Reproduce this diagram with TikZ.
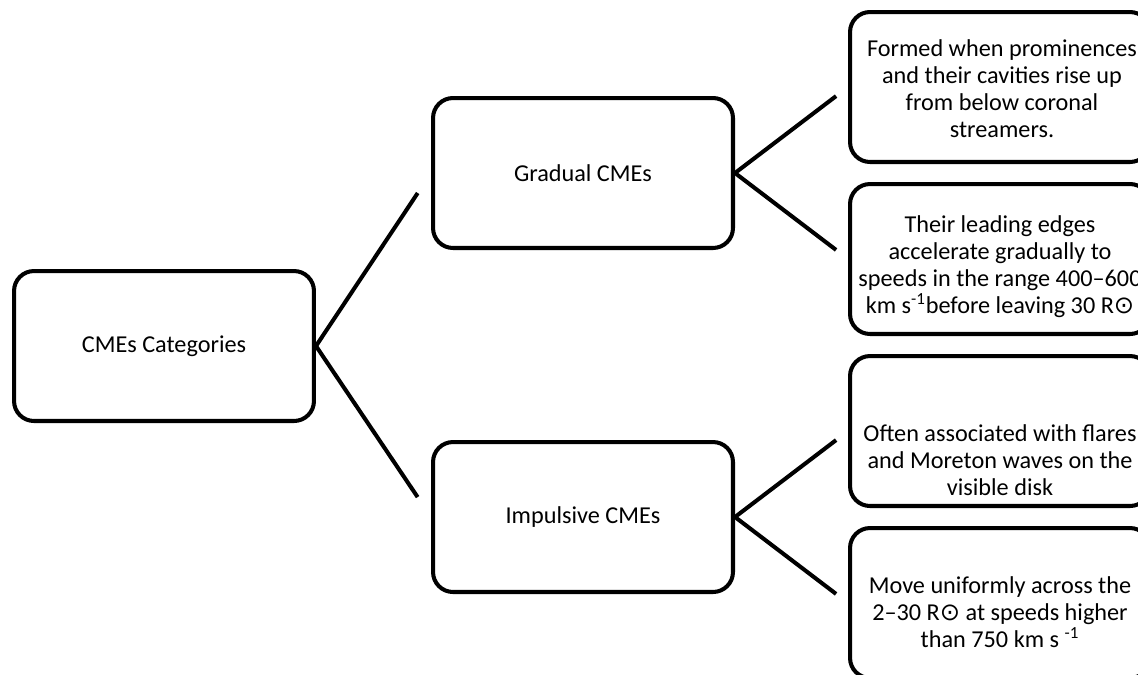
\documentclass[tikz,border=0pt]{standalone}
\usepackage{fontspec}
\setmainfont{Carlito}
\newfontfamily\symfont{DejaVu Sans}
\newcommand{\sunR}{R{\symfont ⊙}}

\begin{document}
\begin{tikzpicture}[x=0.02cm,y=-0.02cm,
  catbox/.style={draw,line width=2.3pt,rounded corners=0.4cm,
    minimum width=6cm,minimum height=3cm,inner sep=0pt,
    font=\fontsize{13.8}{15.4}\selectfont},
  leaftext/.style={align=center,inner sep=0pt,
    font=\fontsize{13.8}{15.4}\selectfont},
  link/.style={line width=2.3pt}]
\useasboundingbox (0,0) rectangle (1138,674);
\clip (0,0) rectangle (1138,674);
% first and second level
\node[catbox] (cat) at (164,346) {CMEs Categories};
\node[catbox] (grad) at (583,173) {Gradual CMEs};
\node[catbox] (imp) at (583,517) {Impulsive CMEs};
% leaves
\node[catbox] (g1) at (1000,87) {};
\node[leaftext] (g1text) at (1002,89) {Formed when prominences\\ and their cavities rise up\\ from below coronal\\ streamers.};
\node[catbox] (g2) at (1000,259) {};
\node[leaftext] (g2text) at (1000,267) {Their leading edges\\ accelerate gradually to\\ speeds in the range 400–600\\ km s\textsuperscript{-1}before leaving 30 \sunR};
\node[catbox] (i1) at (1000,431) {};
\node[leaftext] (i1text) at (1000,460) {Often associated with flares\\ and Moreton waves on the\\ visible disk};
\node[catbox] (i2) at (1000,603) {};
\node[leaftext] (i2text) at (1000,612) {Move uniformly across the\\ 2–30 \sunR{} at speeds higher\\ than 750 km s \textsuperscript{-1}};
% connectors
\draw[link,shorten >=0.48cm] (cat.east) -- (grad.west);
\draw[link,shorten >=0.48cm] (cat.east) -- (imp.west);
\draw[link,shorten >=0.3cm] (grad.east) -- (g1.west);
\draw[link,shorten >=0.3cm] (grad.east) -- (g2.west);
\draw[link,shorten >=0.3cm] (imp.east) -- (i1.west);
\draw[link,shorten >=0.3cm] (imp.east) -- (i2.west);
\end{tikzpicture}
\end{document}
